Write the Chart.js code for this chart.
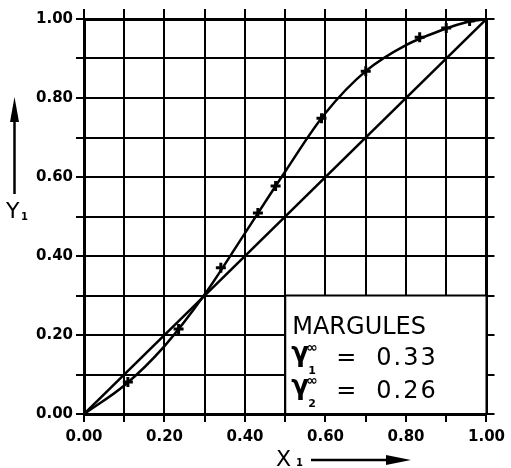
<!DOCTYPE html>
<html><head><meta charset="utf-8">
<script src="https://cdn.jsdelivr.net/npm/chart.js@4.4.0/dist/chart.umd.min.js"></script>
<style>html,body{margin:0;padding:0;background:#fff}#wrap{width:511px;height:468px}</style>
</head><body><div id="wrap"><canvas id="c" width="511" height="468"></canvas></div>
<script>
// ---- data ----
const diagonalX = [0, 1];
const diagonalY = [0, 1];
const curveX = [0, 0.1, 0.2, 0.3, 0.4, 0.5, 0.6, 0.7, 0.8, 0.9, 0.95, 1.0];
const curveY = [0, 0.072, 0.172, 0.303, 0.458, 0.614, 0.762, 0.868, 0.934, 0.976, 0.992, 1.0];
const pointsX = [0.109, 0.235, 0.340, 0.432, 0.476, 0.590, 0.700, 0.834, 0.900, 0.958];
const pointsY = [0.081, 0.215, 0.370, 0.509, 0.577, 0.749, 0.868, 0.954, 0.977, 0.995];
const xTickLabels = ['0.00', '0.20', '0.40', '0.60', '0.80', '1.00'];
const yTickLabels = ['0.00', '0.20', '0.40', '0.60', '0.80', '1.00'];
const xTitle = 'X';
const xTitleSub = '1';
const yTitle = 'Y';
const yTitleSub = '1';
const legendTitle = 'MARGULES';
const gammaSubs = ['1', '2'];
const gammaValues = ['0.33', '0.26'];
const legendBoxX = [0.5, 1.0];
const legendBoxY = [0.0, 0.3];

const toXY = (xs, ys) => xs.map((x, i) => ({x: x, y: ys[i]}));

const tickFont = {family: 'DejaVu Sans', size: 15, weight: 'bold'};

function labelFrom(arr) {
  return (v) => { const i = Math.round(v * 10); return (i % 2 === 0) ? arr[i / 2] : ''; };
}

const overlay = {
  id: 'overlay',
  afterDatasetsDraw(chart) {
    const ctx = chart.ctx;
    const xs = chart.scales.x, ys = chart.scales.y;
    // legend box
    const bx0 = xs.getPixelForValue(legendBoxX[0]), bx1 = xs.getPixelForValue(legendBoxX[1]);
    const by0 = ys.getPixelForValue(legendBoxY[1]), by1 = ys.getPixelForValue(legendBoxY[0]);
    ctx.save();
    ctx.fillStyle = '#fff';
    ctx.fillRect(bx0, by0, bx1 - bx0, by1 - by0);
    ctx.strokeStyle = '#000';
    ctx.lineWidth = 2;
    ctx.strokeRect(bx0, by0, bx1 - bx0, by1 - by0);
    ctx.fillStyle = '#000';
    ctx.textBaseline = 'alphabetic';
    ctx.textAlign = 'left';
    const tx = bx0 + 7;
    ctx.font = '24px "DejaVu Sans"';
    ctx.fillText(legendTitle, tx, by0 + 38);
    const baselines = [by0 + 69, by0 + 102];
    for (let i = 0; i < 2; i++) {
      const b = baselines[i];
      ctx.font = 'bold 26px "DejaVu Sans"';
      ctx.fillText('\u03B3', tx - 1, b - 4);
      ctx.font = 'bold 14px "DejaVu Sans"';
      ctx.fillText('\u221E', tx + 14, b - 13);
      ctx.font = 'bold 11px "DejaVu Sans"';
      ctx.fillText(gammaSubs[i], tx + 16, b + 9);
      ctx.font = '24px "DejaVu Sans"';
      ctx.fillText('=', tx + 44, b);
      ctx.letterSpacing = '2px';
      ctx.fillText(gammaValues[i], tx + 84, b);
      ctx.letterSpacing = '0px';
    }
    // axis titles with arrows
    ctx.font = '22px "DejaVu Sans"';
    ctx.fillText(yTitle, 6, 218);
    ctx.font = 'bold 10px "DejaVu Sans"';
    ctx.fillText(yTitleSub, 21, 220);
    ctx.font = '22px "DejaVu Sans"';
    ctx.fillText(xTitle, 276, 466);
    ctx.font = 'bold 10px "DejaVu Sans"';
    ctx.fillText(xTitleSub, 296, 466);
    ctx.lineWidth = 2.5;
    ctx.beginPath(); ctx.moveTo(14.5, 194); ctx.lineTo(14.5, 115); ctx.stroke();
    ctx.beginPath(); ctx.moveTo(14.5, 97); ctx.lineTo(10, 122); ctx.lineTo(19, 122); ctx.closePath(); ctx.fill();
    ctx.beginPath(); ctx.moveTo(311, 460); ctx.lineTo(392, 460); ctx.stroke();
    ctx.beginPath(); ctx.moveTo(411, 460); ctx.lineTo(386, 455); ctx.lineTo(386, 465); ctx.closePath(); ctx.fill();
    ctx.restore();
  }
};

new Chart(document.getElementById('c'), {
  type: 'scatter',
  data: {
    datasets: [
      {data: toXY(diagonalX, diagonalY), showLine: true, borderColor: '#000', borderWidth: 2.5, pointRadius: 0, order: 3},
      {data: toXY(curveX, curveY), showLine: true, borderColor: '#000', borderWidth: 2.5, pointRadius: 0, tension: 0.35, order: 2},
      {data: toXY(pointsX, pointsY), showLine: false, pointStyle: 'cross', pointRadius: 5, borderColor: '#000', backgroundColor: '#000', pointBorderWidth: 3, order: 1}
    ]
  },
  options: {
    responsive: false,
    animation: false,
    devicePixelRatio: 1,
    layout: {padding: 0},
    plugins: {legend: {display: false}, tooltip: {enabled: false}},
    scales: {
      x: {
        type: 'linear', position: 'bottom', min: 0, max: 1,
        afterFit(s) { s.height = 54; },
        ticks: {stepSize: 0.1, autoSkip: false, maxRotation: 0, padding: 6, color: '#000', font: tickFont, callback: labelFrom(xTickLabels)},
        grid: {color: '#000', lineWidth: 2, tickLength: 8},
        border: {display: true, color: '#000', width: 3}
      },
      x2: {
        type: 'linear', position: 'top', min: 0, max: 1,
        afterFit(s) { s.height = 19; },
        ticks: {stepSize: 0.1, autoSkip: false, maxRotation: 0, display: true, callback: () => '', font: {size: 1}},
        grid: {drawOnChartArea: false, color: '#000', lineWidth: 2, tickLength: 10},
        border: {display: true, color: '#000', width: 3}
      },
      y: {
        type: 'linear', position: 'left', min: 0, max: 1,
        afterFit(s) { s.width = 84; },
        ticks: {stepSize: 0.1, autoSkip: false, padding: 3, color: '#000', font: tickFont, callback: labelFrom(yTickLabels)},
        grid: {color: '#000', lineWidth: 2, tickLength: 8},
        border: {display: true, color: '#000', width: 3}
      },
      y2: {
        type: 'linear', position: 'right', min: 0, max: 1,
        afterFit(s) { s.width = 22; },
        ticks: {stepSize: 0.1, autoSkip: false, display: true, callback: () => '', font: {size: 1}},
        grid: {drawOnChartArea: false, color: '#000', lineWidth: 2, tickLength: 8},
        border: {display: true, color: '#000', width: 3}
      }
    }
  },
  plugins: [overlay]
});
</script></body></html>
